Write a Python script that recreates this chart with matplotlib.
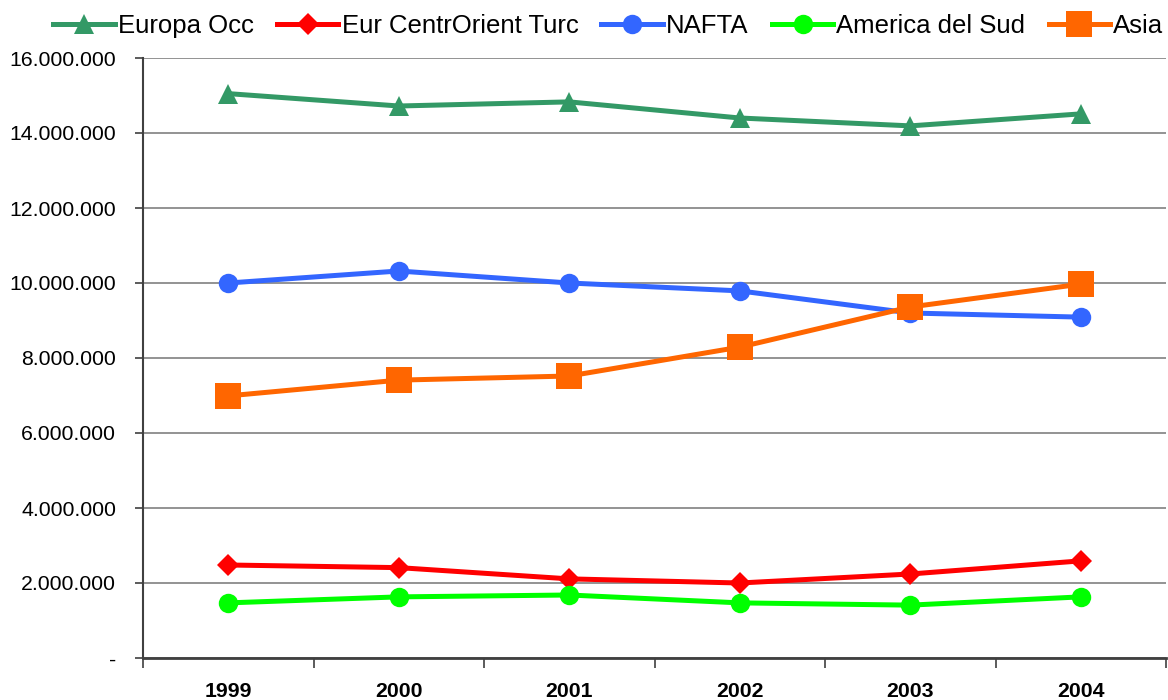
import matplotlib
matplotlib.use("Agg")
import matplotlib.pyplot as plt

plt.rcParams['font.family'] = ['Liberation Sans', 'DejaVu Sans']

# data
anni = ['1999', '2000', '2001', '2002', '2003', '2004']
europa_occ = [15050000, 14720000, 14830000, 14400000, 14190000, 14510000]
eur_centr = [2480000, 2410000, 2110000, 2000000, 2240000, 2590000]
nafta = [10000000, 10320000, 10000000, 9790000, 9200000, 9090000]
america_sud = [1470000, 1630000, 1680000, 1470000, 1410000, 1630000]
asia = [6990000, 7410000, 7520000, 8290000, 9360000, 9970000]

y_ticks = list(range(0, 16000001, 2000000))

fig = plt.figure(figsize=(11.68, 7.0), dpi=100)
ax = fig.add_axes([143 / 1168, 1 - 658 / 700, (1166 - 143) / 1168, 600 / 700])

x = list(range(len(anni)))

series = [
    ('Europa Occ', europa_occ, '#339966', '^', 15),
    ('Eur CentrOrient Turc', eur_centr, '#FF0000', 'D', 11),
    ('NAFTA', nafta, '#3366FF', 'o', 14),
    ('America del Sud', america_sud, '#00FF00', 'o', 14),
    ('Asia', asia, '#FF6600', 's', 19),
]

for name, vals, col, mk, ms in series:
    ax.plot(x, vals, color=col, lw=3.6, marker=mk, markersize=ms,
            markeredgewidth=0, label=name, zorder=3, clip_on=False)

ax.set_xlim(-0.5, 5.43)
ax.set_ylim(0, 16000000)

ax.set_yticks(y_ticks)
ax.set_yticklabels(['-' if v == 0 else f"{v:,}".replace(',', '.') for v in y_ticks],
                   fontsize=15.3)
ax.tick_params(axis='y', direction='out', length=6, width=1.2, color='#404040', pad=13.5)

ax.set_xticks(x)
ax.set_xticklabels(anni, fontsize=15.3, fontweight='bold')
ax.tick_params(axis='x', which='major', length=0, pad=17)
ax.set_xticks([i - 0.5 for i in range(len(anni) + 1)], minor=True)
ax.tick_params(axis='x', which='minor', direction='out', length=7, width=1.2, color='#404040')

ax.grid(axis='y', color='#808080', lw=1.2, zorder=1)
ax.set_axisbelow(True)

for s in ['top', 'right']:
    ax.spines[s].set_visible(False)
ax.spines['left'].set_color('#404040')
ax.spines['left'].set_linewidth(1.5)
ax.spines['bottom'].set_color('#404040')
ax.spines['bottom'].set_linewidth(2)
ax.spines['bottom'].set_zorder(2)

fig.legend(loc='center left', bbox_to_anchor=(53 / 1168, 1 - 26 / 700), ncol=5,
           frameon=False, fontsize=18.5, handlelength=2.4, handletextpad=0.12,
           columnspacing=0.9, borderpad=0, borderaxespad=0, numpoints=1)

fig.savefig('out.png', dpi=100)
